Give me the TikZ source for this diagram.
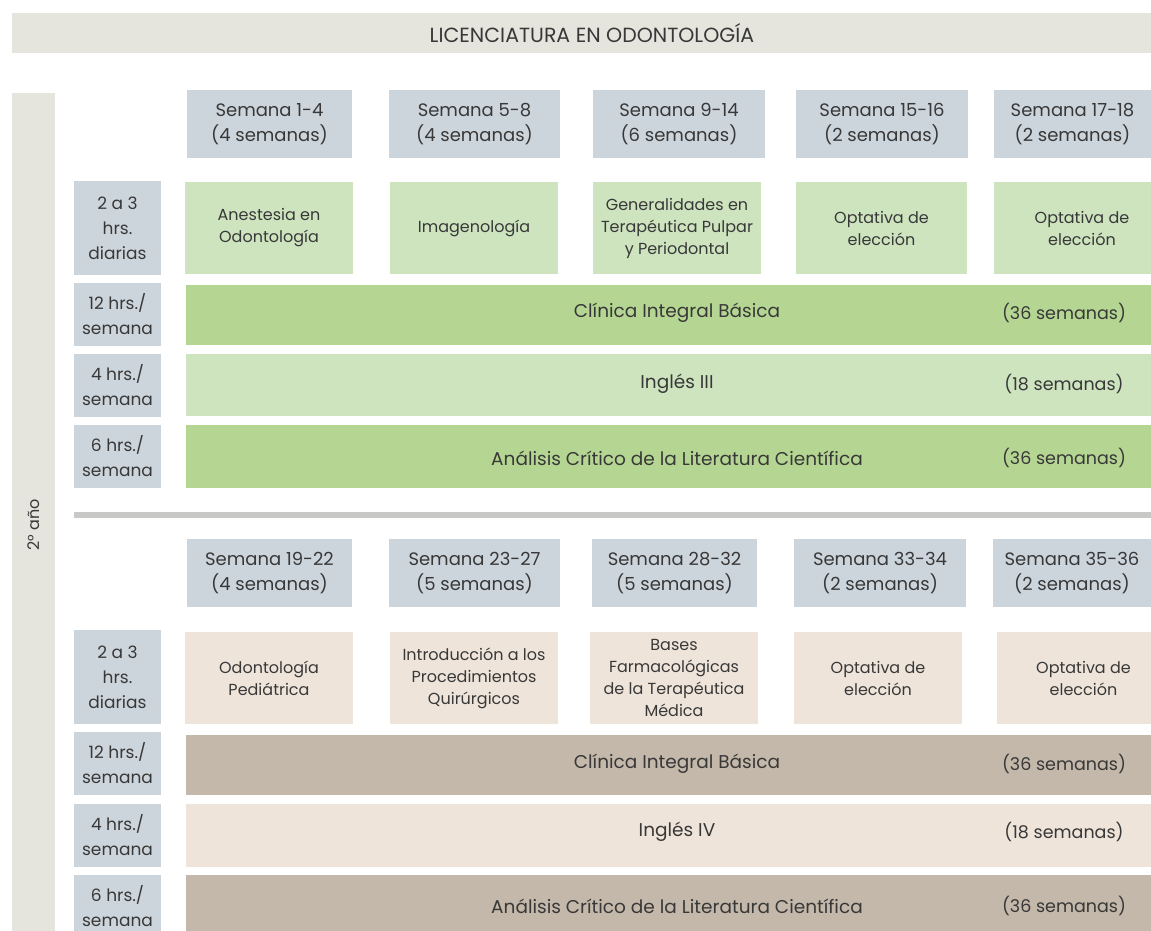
\documentclass[tikz,border=0pt]{standalone}
\usepackage{fontspec}
\setmainfont{Poppins}
\definecolor{titlegray}{HTML}{E5E5DE}
\definecolor{bluegray}{HTML}{CDD5DC}
\definecolor{lgreen}{HTML}{CDE4BF}
\definecolor{dgreen}{HTML}{B5D692}
\definecolor{lbeige}{HTML}{EEE4DA}
\definecolor{dbeige}{HTML}{C4B8AA}
\definecolor{sepgray}{HTML}{C8C9C7}
\definecolor{txt}{HTML}{383838}
\newcommand\cell[7]{\node[#2, minimum width={#5-#3}, minimum height={#6-#4}] (#1) at (#3,#4) {#7};}
\begin{document}
\begin{tikzpicture}[x=1pt,y=-1pt,
  base/.style={anchor=north west, inner sep=0pt, outer sep=0pt, align=center, text=txt},
  titlebox/.style={base, fill=titlegray, font=\fontsize{20.5}{24}\selectfont},
  wk/.style={base, fill=bluegray, font=\fontsize{18}{25}\selectfont},
  lbl/.style={base, fill=bluegray, font=\fontsize{17}{25}\selectfont},
  cg/.style={base, fill=lgreen, font=\fontsize{16}{22}\selectfont},
  cb/.style={base, fill=lbeige, font=\fontsize{16}{22}\selectfont},
  barA/.style={base, fill=dgreen},
  barB/.style={base, fill=lgreen},
  barC/.style={base, fill=dbeige},
  barD/.style={base, fill=lbeige},
  bartxt/.style={text=txt, inner sep=0pt, font=\fontsize{18.5}{22}\selectfont},
  wktxt/.style={text=txt, inner sep=0pt, font=\fontsize{17.5}{22}\selectfont},
  seprule/.style={draw=sepgray, line width=6pt}]
\useasboundingbox (0,0) rectangle (1151,931);
\fill[white] (0,0) rectangle (1151,931);
% title and year bar
\cell{title}{titlebox}{12}{13}{1172}{53}{LICENCIATURA EN ODONTOLOGÍA}
\cell{year}{base, fill=titlegray}{12}{93}{55}{935}{}
\node[rotate=90, text=txt, font=\fontsize{16}{20}\selectfont, inner sep=0pt] (yeartxt) at (34,525) {2° año};
% ---------- first semester ----------
\cell{w1}{wk}{187}{90}{352}{158}{Semana 1-4\\(4 semanas)}
\cell{w2}{wk}{389}{90}{560}{158}{Semana 5-8\\(4 semanas)}
\cell{w3}{wk}{593}{90}{765}{158}{Semana 9-14\\(6 semanas)}
\cell{w4}{wk}{796}{90}{968}{158}{Semana 15-16\\(2 semanas)}
\cell{w5}{wk}{994}{90}{1151}{158}{Semana 17-18\\(2 semanas)}
\cell{l1}{lbl}{74}{181}{161}{275}{2 a 3\\hrs.\\diarias}
\cell{l2}{lbl}{74}{283}{161}{346}{12 hrs./\\semana}
\cell{l3}{lbl}{74}{354}{161}{417}{4 hrs./\\semana}
\cell{l4}{lbl}{74}{425}{161}{488}{6 hrs./\\semana}
\cell{c1}{cg}{185}{182}{353}{274}{Anestesia en\\Odontología}
\cell{c2}{cg}{390}{182}{558}{274}{Imagenología}
\cell{c3}{cg}{593}{182}{761}{274}{Generalidades en\\Terapéutica Pulpar\\y Periodontal}
\cell{c4}{cg}{796}{182}{967}{274}{Optativa de\\elección}
\cell{c5}{cg}{994}{182}{1170}{274}{Optativa de\\elección}
\cell{b1}{barA}{186}{285}{1172}{345}{}
\cell{b2}{barB}{186}{354}{1172}{416}{}
\cell{b3}{barA}{186}{425}{1172}{488}{}
\node[bartxt] (b1t) at (677,313) {Clínica Integral Básica};
\node[wktxt] (b1w) at (1064,313) {(36 semanas)};
\node[bartxt] (b2t) at (677,384) {Inglés III};
\node[wktxt] (b2w) at (1064,384) {(18 semanas)};
\node[bartxt] (b3t) at (677,458) {Análisis Crítico de la Literatura Científica};
\node[wktxt] (b3w) at (1064,458) {(36 semanas)};
% separator
\coordinate (sepL) at (74,515);
\coordinate (sepR) at (1172,515);
\draw[seprule] (sepL) -- (sepR);
% ---------- second semester ----------
\cell{v1}{wk}{187}{539}{352}{607}{Semana 19-22\\(4 semanas)}
\cell{v2}{wk}{389}{539}{560}{607}{Semana 23-27\\(5 semanas)}
\cell{v3}{wk}{592}{539}{757}{607}{Semana 28-32\\(5 semanas)}
\cell{v4}{wk}{794}{539}{966}{607}{Semana 33-34\\(2 semanas)}
\cell{v5}{wk}{993}{539}{1151}{607}{Semana 35-36\\(2 semanas)}
\cell{m1}{lbl}{74}{630}{161}{724}{2 a 3\\hrs.\\diarias}
\cell{m2}{lbl}{74}{732}{161}{795}{12 hrs./\\semana}
\cell{m3}{lbl}{74}{804}{161}{867}{4 hrs./\\semana}
\cell{m4}{lbl}{74}{875}{161}{938}{6 hrs./\\semana}
\cell{d1}{cb}{185}{632}{353}{724}{Odontología\\Pediátrica}
\cell{d2}{cb}{390}{632}{558}{724}{Introducción a los\\Procedimientos\\Quirúrgicos}
\cell{d3}{cb}{590}{632}{758}{724}{Bases\\Farmacológicas\\de la Terapéutica\\Médica}
\cell{d4}{cb}{794}{632}{962}{724}{Optativa de\\elección}
\cell{d5}{cb}{997}{632}{1170}{724}{Optativa de\\elección}
\cell{e1}{barC}{186}{735}{1172}{795}{}
\cell{e2}{barD}{186}{804}{1172}{867}{}
\cell{e3}{barC}{186}{875}{1172}{938}{}
\node[bartxt] (e1t) at (677,764) {Clínica Integral Básica};
\node[wktxt] (e1w) at (1064,764) {(36 semanas)};
\node[bartxt] (e2t) at (677,832) {Inglés IV};
\node[wktxt] (e2w) at (1064,832) {(18 semanas)};
\node[bartxt] (e3t) at (677,906) {Análisis Crítico de la Literatura Científica};
\node[wktxt] (e3w) at (1064,906) {(36 semanas)};
\end{tikzpicture}
\end{document}
